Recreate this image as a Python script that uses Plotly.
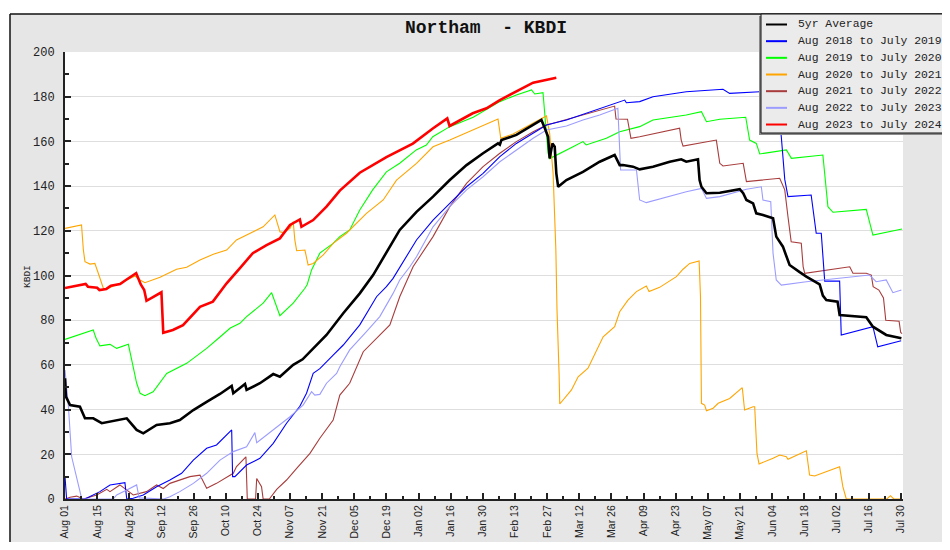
import pandas as pd
import plotly.graph_objects as go

# ---------------- data (days since 1 Aug, KBDI values) ----------------
BASE_DATE = "2023-08-01"
X_RANGE = ["2023-08-01", "2024-07-31"]
Y_RANGE = [0, 200]
TITLE = "Northam  - KBDI"
Y_TITLE = "KBDI"
TICK_STEP_DAYS = 14
TICK_LABELS = ["Aug 01", "Aug 15", "Aug 29", "Sep 12", "Sep 26", "Oct 10", "Oct 24",
               "Nov 07", "Nov 21", "Dec 05", "Dec 19", "Jan 02", "Jan 16", "Jan 30",
               "Feb 13", "Feb 27", "Mar 12", "Mar 26", "Apr 09", "Apr 23", "May 07",
               "May 21", "Jun 04", "Jun 18", "Jul 02", "Jul 16", "Jul 30"]

NAMES = ["5yr Average", "Aug 2018 to July 2019", "Aug 2019 to July 2020",
         "Aug 2020 to July 2021", "Aug 2021 to July 2022", "Aug 2022 to July 2023",
         "Aug 2023 to July 2024"]
COLORS = ["#000000", "#0000ff", "#00ff00", "#ffa500", "#a83c3c", "#9c9cff", "#ff0000"]
WIDTHS = [2.6, 1.1, 1.1, 1.1, 1.1, 1.1, 2.6]

AVG_DAYS = [0, 0.4, 2.2, 6.5, 8.7, 12.3, 16, 19.6, 26.9, 31.2, 34.1, 39.9, 45.7, 50, 55.9,
            61.7, 67.5, 72.6, 73.3, 78.4, 79.1, 84.9, 90.7, 93.6, 99.4, 103.5, 108.1, 113.9,
            121.2, 128.4, 134.2, 140, 145.8, 153.1, 160.3, 167.6, 174.9, 182.1, 188.6, 189.4,
            190.1, 196.6, 203.9, 207.5, 209, 210.4, 211.1, 212.3, 213.3, 214, 214.8, 218.4,
            225.6, 232.9, 239.4, 241.6, 243, 247.4, 250.3, 256.1, 263.4, 268.4, 270.6, 275.7,
            276.4, 277.2, 279.4, 285.2, 293.9, 295.4, 296.8, 299.7, 301.1, 304, 308.4, 309.8,
            312.7, 314.2, 315.6, 320, 322.9, 328.7, 330.1, 331.6, 336.5, 337.4, 349, 351.9,
            357.7, 364.3]
AVG_VALS = [54, 45.8, 42, 41.3, 36.1, 36.1, 33.9, 34.6, 36.1, 30.9, 29.4, 33.1, 33.9, 35.3,
            39.8, 43.5, 47, 50.6, 47.3, 51.5, 48.8, 51.8, 55.9, 54.7, 60, 62.5, 67.4, 73.4,
            83.1, 92, 100.2, 110.5, 120.4, 128.5, 135.3, 142.7, 149.4, 154.7, 159.1, 158.5,
            160.6, 162.9, 167.3, 169.6, 165.9, 162.1, 152.4, 159.1, 157.6, 145.7, 139.7, 142.7,
            146.4, 150.9, 153.9, 149.4, 149.4, 148.7, 147.5, 148.7, 150.9, 152, 150.9, 152,
            142.7, 139.7, 136.8, 137, 138.6, 136.8, 133.8, 132.3, 127.8, 127.1, 125.6, 117.4,
            112.9, 108.4, 104.7, 101.5, 99.5, 96, 91, 89, 88.3, 82.3, 81.3, 77.1,
            73.4, 71.9]

Y2018_DAYS = [0, 0.7, 8.7, 15.2, 19.6, 26.1, 26.9, 29.7, 34.1, 39.9, 45.7, 50.8, 55.9, 61.7,
              66, 72.6, 73, 74, 79.1, 84.9, 90.7, 96.5, 102.3, 105.2, 108.1, 111, 116.8, 121.2,
              128.4, 135.7, 140, 142.9, 153.1, 160.3, 167.6, 174.9, 182.1, 189.4, 196.6, 203.9,
              209.7, 218.4, 232.9, 243.8, 244.5, 250.3, 256.1, 270.6, 286.6, 289.5, 302.6, 310,
              312, 313.5, 314.9, 325, 327.2, 329.4, 330.9, 337.4, 338.1, 351.9, 354, 364.2]
Y2018_VALS = [10, 0, 0, 3.3, 6.3, 7.3, 0, 0.3, 1.8, 5.5, 8.5, 11.5, 17.4, 22.7,
              24.2, 30.9, 10, 10, 15.2, 18.2, 24.9, 33.9, 41.5, 47.3, 56.2, 58.3, 64.4, 68.9,
              77.9, 90.5, 95, 98.7, 115.9, 124.8, 132.3, 139.7, 145.7, 153.2, 159.1, 163.6,
              167.3, 169.6, 174.8, 178.5, 177.3, 177.8, 180, 182.2, 183.3, 181.5, 182.2, 182.5,
              162, 143, 135.3, 136, 118.9, 118.9, 97.5, 97.5, 73.4, 77.1, 68.1, 70.8]

Y2019_DAYS = [0, 12.3, 13.5, 15.2, 19.6, 22.5, 27.6, 29, 31.2, 32.7, 34.8, 38.4, 44.3, 53,
              61.7, 67.5, 72, 76.2, 79.1, 86.3, 90, 93.6, 99.4, 104.5, 105.5, 107.4, 109.6, 111,
              116.8, 119.7, 124, 128.4, 134, 140, 145.8, 153, 157.4, 160.2, 167.6, 177.8, 189.4,
              196.6, 203.2, 204.6, 208.2, 209, 210.4, 211.1, 214, 221.3, 225.6, 227, 235.8,
              241.6, 250.3, 256.1, 270.6, 277.2, 279.4, 285.2, 296.5, 298.2, 301.1, 302.6,
              314.2, 316.4, 330.1, 332.3, 334.5, 349, 351.9, 364.6]
Y2019_VALS = [71.4, 75.6, 72, 68.5, 69.2, 67.4, 69.2, 62.2, 51.9, 47.3, 46.2, 48, 56.2, 60.7,
              67.4, 72.5, 76.5, 78.6, 81.6, 87.6, 92.3, 82, 87.6, 94.3, 96, 102.5, 107.5, 110,
              114.4, 117.4, 120.4, 129.3, 138.3, 146.4, 150.2, 156.2, 158.4, 162.1, 166.6, 170.8,
              177.8, 180.8, 183, 181.2, 181.8, 171, 154.7, 152.3, 153.9, 157.6, 159.9, 158.4,
              161.4, 164.3, 166.6, 169.6, 171.8, 173.3, 168.8, 169.9, 170.8, 160.6, 159.1, 154.4,
              156.2, 152.4, 153.9, 130.8, 128.3, 129.6, 118.1, 120.8]

Y2020_DAYS = [0, 7.2, 8, 8.7, 10.9, 13, 14.5, 16.7, 18.2, 23.9, 30.5, 32.7, 34.8, 41.4, 48.6,
              53, 58.8, 64.6, 70.4, 74.7, 82, 86.3, 91.4, 93.6, 95, 98, 99.4, 100.1, 100.9, 104.5,
              105.9, 108.1, 112.5, 116.8, 122.6, 131.3, 138.6, 144.4, 153.1, 160.3, 167.6, 177.8,
              188.6, 189.8, 195.2, 201, 206.8, 209.7, 211.1, 212.6, 213.8, 214.3, 215.2, 215.5,
              220.6, 223.5, 227.8, 231.5, 234.4, 239.4, 241.6, 245.2, 248.9, 253.2, 254.4, 259,
              262.6, 266.3, 269.2, 272.1, 276.2, 276.8, 277.2, 278.6, 279.4, 282.3, 284.5, 289.5,
              295, 296, 299.7, 300.4, 301.4, 302.3, 308.4, 311.3, 314.2, 314.9, 322.9, 324.3,
              326.5, 331.6, 337.4, 338.8, 340.3, 358, 359.5, 361, 364.5]
Y2020_VALS = [121.1, 122.6, 111.4, 106.2, 105.1, 105.4, 101, 94.3, 94, 96.5, 99.8, 98, 96.8,
              99.2, 102.8, 103.7, 106.9, 109.5, 111.4, 115.9, 119.6, 121.8, 127.1, 119.6, 119.2,
              121.1, 124.1, 115.9, 111.1, 111.4, 104.7, 105.4, 109.2, 114.4, 118.9, 127.8, 133.8,
              142.7, 150.2, 157.6, 160.6, 165.1, 170, 161.4, 163.3, 166.6, 169.6, 171.4, 163.6,
              145.7, 111.4, 84.6, 56.2, 42.5, 48.8, 54.7, 58.5, 66.7, 72.6, 77.1, 83.8, 89, 92.8,
              95.3, 92.8, 94.7, 97.2, 99.5, 102.8, 105.4, 106.5, 90.5, 42.8, 42, 39.5, 40.6, 42.8,
              45, 49.8, 39.8, 41.3, 41.3, 20.4, 15.7, 18.2, 19.7, 18.9, 17.8, 21.6, 10.7, 10.3,
              12.2, 14.4, 5.5, 0, 0, 1.5, 0, 0]

Y2021_DAYS = [0, 2.2, 5.1, 8, 13.8, 18.2, 19.6, 23.9, 29.7, 35.5, 39.9, 42.8, 45.7, 50, 54.4,
              58.8, 61.7, 66, 73.3, 74.7, 78.8, 79.4, 83, 83.5, 85.6, 86.3, 89, 92.2, 96.5, 100.9,
              106.7, 111, 116.8, 119.7, 124, 129.9, 135.7, 141.5, 145.8, 150.2, 151.6, 160.3,
              167.6, 174.9, 182.1, 189.4, 196.6, 203.9, 209.7, 212.6, 225.6, 239.4, 240, 245,
              246.5, 250.3, 267.7, 268.4, 269.2, 283.7, 285.2, 286.6, 295.4, 296.8, 311.3, 313.5,
              314.9, 316.3, 320.7, 321.5, 322.2, 325.8, 341.8, 343.2, 349, 351.2, 352, 354.5,
              356.5, 357.5, 363.3, 364, 364.6]
Y2021_VALS = [0, 0.8, 1.3, 0, 1.8, 4.3, 3.3, 6.3, 1.8, 3.3, 6.3, 4.7, 7, 8.5, 10,
              10.7, 4.8, 7, 11.5, 14.5, 18.9, 0, 0, 9.2, 5.5, 0, 0, 4.3, 8.5, 13.7,
              20.4, 27.2, 35.3, 46.5, 51.8, 65.9, 71.9, 77.9, 90.5, 101, 103.9, 117.4,
              130.8, 141.2, 148.7, 154.7, 159.9, 164.3, 167.3, 168.1, 171.8, 175.8, 170, 169.9,
              161.4, 162.1, 165.9, 160.6, 157.9, 160.6, 150.2, 149, 150.2, 142, 143.5, 138.3,
              126.3, 115.1, 114.4, 104, 101, 101.5, 103.9, 101, 101, 100.2, 95, 93.5,
              90, 80, 79.5, 74.5, 74]

Y2022_DAYS = [0, 1.5, 2.9, 5.1, 7.3, 21, 22.5, 26.9, 31.2, 32.3, 43, 45.7, 50, 55.9, 61.7,
              67.5, 73.3, 79.1, 82.7, 83.5, 90.7, 98, 103.7, 107.4, 108.8, 111, 113.9, 118.3,
              119.7, 124, 131.3, 137.1, 142.9, 145.8, 150.2, 153.1, 160.3, 167.6, 174.9, 182.1,
              189.4, 196.6, 203.9, 209.7, 211.1, 218.4, 225.6, 232.9, 240.8, 241.3, 242, 248.9,
              250.3, 253.2, 270.6, 277.2, 279.4, 285.2, 296.8, 303.3, 304, 307.4, 308.4, 309.8,
              312, 322.9, 343.2, 350.4, 353.3, 357.7, 360.6, 364.3]
Y2022_VALS = [57.7, 41.3, 18.9, 10, 0, 0, 1.8, 4, 6.3, 0.5, 0, 1, 3.3, 7, 11.5,
              17.4, 21.2, 23.4, 29.7, 25.2, 30.9, 36.8, 42, 48, 46.5, 46.8, 51.8, 56.2,
              59.2, 66.7, 74.9, 81.6, 92, 98, 103.9, 108.4, 121.8, 130.8, 138.3, 144.2,
              150.9, 156.2, 161.4, 165.1, 165.4, 166.9, 169.6, 171.8, 174.8, 165, 147.2, 147.2,
              133.8, 132.6, 137.5, 139, 134.5, 135.3, 138.6, 139.7, 133.8, 133, 109.9, 98,
              95.7, 97.2, 99.5, 100.2, 97.2, 98, 92.3, 93.5]

Y2023_DAYS = [0, 9, 10, 14, 15, 18, 20, 24, 27, 31, 33, 34.5, 35.5, 41, 42, 42.8, 47, 51.4,
              54.4, 58.8, 64.4, 70.4, 76.2, 81.8, 87.8, 93.6, 98, 102.3, 103, 108.1, 113.9,
              119.7, 128.4, 140, 151.5, 160.2, 166.5, 167.5, 177.6, 183.6, 189.4, 195.2, 203.9,
              214]
Y2023_VALS = [94.4, 96.2, 95, 94.5, 93.5, 94, 95.4, 96.2, 98.3, 101, 96, 93.5, 88.7, 92,
              92.5, 74.4, 75.6, 77.8, 81, 86, 88.3, 96.5, 103.3, 110, 113.6, 116.6, 122.6,
              125.1, 121.8, 124.8, 130.8, 138, 146, 153, 159, 165.8, 170.3, 166.9, 172.6,
              174.8, 178.5, 181.5, 186.3, 188.5]

SERIES_DAYS = [AVG_DAYS, Y2018_DAYS, Y2019_DAYS, Y2020_DAYS, Y2021_DAYS, Y2022_DAYS, Y2023_DAYS]
SERIES_VALS = [AVG_VALS, Y2018_VALS, Y2019_VALS, Y2020_VALS, Y2021_VALS, Y2022_VALS, Y2023_VALS]

# ---------------- figure ----------------
# the page body adds an 8px margin; the figure is sized to fit the window exactly
OFF = 8
W, H = 934, 534
ML, MT = 65 - OFF, 52 - OFF
PW, PH = 838, 447
MR, MB = W - ML - PW, H - MT - PH


def px_x(px):  # screen x (reference pixels) -> paper x
    return (px - OFF - ML) / PW


def px_y(py):  # screen y (reference pixels) -> paper y
    return (H - MB - (py - OFF)) / PH


base = pd.Timestamp(BASE_DATE)


def to_dates(days):
    return base + pd.to_timedelta(pd.Series(days, dtype=float), unit="D")


fig = go.Figure()
order = [2, 3, 4, 1, 5, 0, 6]
for i in order:
    fig.add_trace(go.Scatter(
        x=to_dates(SERIES_DAYS[i]), y=SERIES_VALS[i], mode="lines", name=NAMES[i],
        line=dict(color=COLORS[i], width=WIDTHS[i]), showlegend=False,
        hoverinfo="skip"))

tickvals = [base + pd.Timedelta(days=TICK_STEP_DAYS * k) for k in range(len(TICK_LABELS))]

shapes = []
annotations = []
# white margin above / left of the gray frame + frame border
shapes.append(dict(type="rect", xref="paper", yref="paper", x0=px_x(-20), x1=px_x(980),
                   y0=px_y(14), y1=px_y(-20), fillcolor="white", line=dict(width=0), layer="below"))
shapes.append(dict(type="rect", xref="paper", yref="paper", x0=px_x(-20), x1=px_x(10),
                   y0=px_y(580), y1=px_y(14), fillcolor="white", line=dict(width=0), layer="below"))
shapes.append(dict(type="line", xref="paper", yref="paper", x0=px_x(10), x1=px_x(980),
                   y0=px_y(14), y1=px_y(14), line=dict(color="#111", width=1.5)))
shapes.append(dict(type="line", xref="paper", yref="paper", x0=px_x(10), x1=px_x(10),
                   y0=px_y(14), y1=px_y(580), line=dict(color="#111", width=1.5)))

# legend box (drawn manually for exact spacing)
LEG_X0, LEG_Y0, LEG_Y1 = 761, 14, 133
shapes.append(dict(type="rect", xref="paper", yref="paper", x0=px_x(LEG_X0 - 2), x1=px_x(980),
                   y0=px_y(LEG_Y1 + 2), y1=px_y(LEG_Y0 + 2), fillcolor="#8a8a8a",
                   line=dict(width=0)))
shapes.append(dict(type="rect", xref="paper", yref="paper", x0=px_x(LEG_X0), x1=px_x(980),
                   y0=px_y(LEG_Y1), y1=px_y(LEG_Y0), fillcolor="#ebebeb",
                   line=dict(color="#111", width=1)))
for k, name in enumerate(NAMES):
    yy = 24.5 + k * 16.67
    shapes.append(dict(type="line", xref="paper", yref="paper", x0=px_x(766), x1=px_x(787),
                       y0=px_y(yy), y1=px_y(yy), line=dict(color=COLORS[k], width=2)))
    annotations.append(dict(text=name, xref="paper", yref="paper", x=px_x(796), y=px_y(yy),
                            xanchor="left", yanchor="middle", showarrow=False,
                            font=dict(family="Liberation Mono", size=11.4, color="#222")))

annotations.append(dict(text=Y_TITLE, xref="paper", yref="paper", x=px_x(27), y=px_y(277),
                        xanchor="center", yanchor="middle", textangle=-90, showarrow=False,
                        font=dict(family="Liberation Mono", size=9.5, color="#222")))

fig.update_layout(
    width=W, height=H, margin=dict(l=ML, r=MR, t=MT, b=MB, autoexpand=False),
    paper_bgcolor="#e6e6e6", plot_bgcolor="white",
    title=dict(text="<b>" + TITLE + "</b>", x=px_x(486), xref="paper", xanchor="center",
               y=1 - (27 - OFF) / H, yref="container", yanchor="middle",
               font=dict(family="Liberation Mono", size=18, color="#111")),
    shapes=shapes, annotations=annotations, showlegend=False,
    xaxis=dict(type="date", range=X_RANGE, tickmode="array", tickvals=tickvals,
               ticktext=TICK_LABELS, tickangle=-90, ticks="inside", ticklen=6, tickwidth=1.5,
               tickcolor="#222", showline=True, linecolor="#222", linewidth=2, mirror=False,
               showgrid=False, zeroline=False, automargin=False,
               tickfont=dict(family="Liberation Sans", size=10.5, color="#222"),
               minor=dict(tick0=BASE_DATE, dtick=7 * 86400000, ticks="inside", ticklen=3,
                          tickcolor="#222", showgrid=False)),
    yaxis=dict(range=Y_RANGE, dtick=20, ticks="inside", ticklen=6, tickwidth=1.5,
               tickcolor="#222", showline=True, linecolor="#222", linewidth=2,
               showgrid=True, gridcolor="#dedede", gridwidth=1, zeroline=False,
               automargin=False, ticklabelstandoff=6,
               tickfont=dict(family="Liberation Mono", size=12, color="#222"),
               minor=dict(dtick=10, ticks="inside", ticklen=4, tickcolor="#222",
                          showgrid=False)),
)

fig.write_html("out.html")
